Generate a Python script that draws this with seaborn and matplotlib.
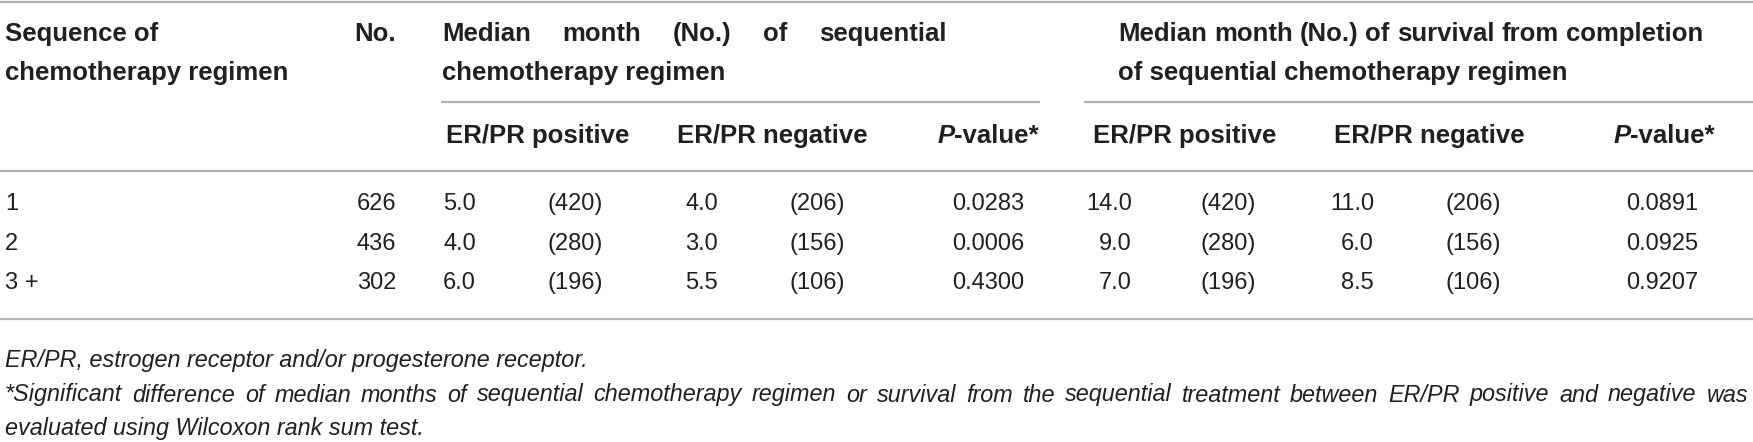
import pandas as pd
import matplotlib
matplotlib.use("Agg")
import matplotlib.pyplot as plt
import seaborn as sns

# table values
sequence = ["1", "2", "3 +"]
n_patients = [626, 436, 302]
chemo_pos_median = [5.0, 4.0, 6.0]
chemo_pos_n = [420, 280, 196]
chemo_neg_median = [4.0, 3.0, 5.5]
chemo_neg_n = [206, 156, 106]
chemo_p = ["0.0283", "0.0006", "0.4300"]
surv_pos_median = [14.0, 9.0, 7.0]
surv_pos_n = [420, 280, 196]
surv_neg_median = [11.0, 6.0, 8.5]
surv_neg_n = [206, 156, 106]
surv_p = ["0.0891", "0.0925", "0.9207"]

footnotes = [
    "ER/PR, estrogen receptor and/or progesterone receptor.",
    "*Significant difference of median months of sequential chemotherapy regimen or survival "
    "from the sequential treatment between ER/PR positive and negative was",
    "evaluated using Wilcoxon rank sum test.",
]

df = pd.DataFrame({
    "seq": sequence, "n": n_patients,
    "c_pos": chemo_pos_median, "c_pos_n": chemo_pos_n,
    "c_neg": chemo_neg_median, "c_neg_n": chemo_neg_n, "c_p": chemo_p,
    "s_pos": surv_pos_median, "s_pos_n": surv_pos_n,
    "s_neg": surv_neg_median, "s_neg_n": surv_neg_n, "s_p": surv_p,
})

sns.set_theme(style="white")
plt.rcParams["font.family"] = ["Liberation Sans", "DejaVu Sans"]

W, H = 1753, 442
fig = plt.figure(figsize=(W / 100, H / 100), dpi=100)
ax = fig.add_axes([0, 0, 1, 1])
ax.set_xlim(0, W)
ax.set_ylim(H, 0)
ax.axis("off")
renderer = fig.canvas.get_renderer()

TXT = "#231f20"
RULE = "#b4b4b4"
HS, DS, FS = 18.5, 17, 16.8


def rule(y, x0=0, x1=W):
    ax.plot([x0, x1], [y, y], color=RULE, lw=1.6, solid_capstyle="butt")


def justified(line, x0, x1, y, **kw):
    """spread the words of one line so it fills x0..x1 (like the typeset table)"""
    words = line.split(" ")
    texts = [ax.text(0, y, w, ha="left", **kw) for w in words]
    widths = [t.get_window_extent(renderer).width for t in texts]
    gap = (x1 - x0 - sum(widths)) / max(len(words) - 1, 1)
    x = x0
    for t, w in zip(texts, widths):
        t.set_x(x)
        x += w + gap


# rules
rule(1.5)
rule(102, 441, 1040)
rule(102, 1084, W)
rule(171)
rule(319)

# header
hkw = dict(fontsize=HS, fontweight="bold", color=TXT, va="center")
ax.text(5, 34, "Sequence of", **hkw)
ax.text(5, 73, "chemotherapy regimen", **hkw)
ax.text(396, 34, "No.", ha="right", **hkw)
justified("Median month (No.) of sequential", 442, 947, 34, **hkw)
ax.text(442, 73, "chemotherapy regimen", **hkw)
justified("Median month (No.) of survival from completion", 1118, 1703, 34, **hkw)
ax.text(1118, 73, "of sequential chemotherapy regimen", **hkw)

for x in (446, 1093):
    ax.text(x, 136, "ER/PR positive", **hkw)
for x in (677, 1334):
    ax.text(x, 136, "ER/PR negative", **hkw)
for x in (988, 1664):
    p = ax.text(0, 136, "P", fontstyle="italic", **hkw)
    v = ax.annotate("-value*", xy=(1, 0.5), xycoords=p, fontsize=HS,
                    fontweight="bold", color=TXT, va="center", ha="left")
    total = (p.get_window_extent(renderer).width
             + v.get_window_extent(renderer).width)
    p.set_x(x - total / 2)

# body rows
dkw = dict(fontsize=DS, color=TXT, va="center")
row_y = [204, 244, 283]
for y, (_, r) in zip(row_y, df.iterrows()):
    ax.text(5, y, r["seq"], **dkw)
    ax.text(396, y, f"{r['n']}", ha="right", **dkw)
    ax.text(476, y, f"{r['c_pos']:.1f}", ha="right", **dkw)
    ax.text(548, y, f"({r['c_pos_n']})", ha="left", **dkw)
    ax.text(718, y, f"{r['c_neg']:.1f}", ha="right", **dkw)
    ax.text(790, y, f"({r['c_neg_n']})", ha="left", **dkw)
    ax.text(988, y, r["c_p"], ha="center", **dkw)
    ax.text(1132, y, f"{r['s_pos']:.1f}", ha="right", **dkw)
    ax.text(1201, y, f"({r['s_pos_n']})", ha="left", **dkw)
    ax.text(1374, y, f"{r['s_neg']:.1f}", ha="right", **dkw)
    ax.text(1446, y, f"({r['s_neg_n']})", ha="left", **dkw)
    ax.text(1662, y, r["s_p"], ha="center", **dkw)

# footnotes (the middle line is justified to the full width in the reference)
fkw = dict(fontsize=FS, fontstyle="italic", color=TXT, va="center")
fn_y = [361, 395, 428]
ax.text(5, fn_y[0], footnotes[0], **fkw)
justified(footnotes[1], 5, 1748, fn_y[1], **fkw)
ax.text(5, fn_y[2], footnotes[2], **fkw)

fig.savefig("out.png", dpi=100)
